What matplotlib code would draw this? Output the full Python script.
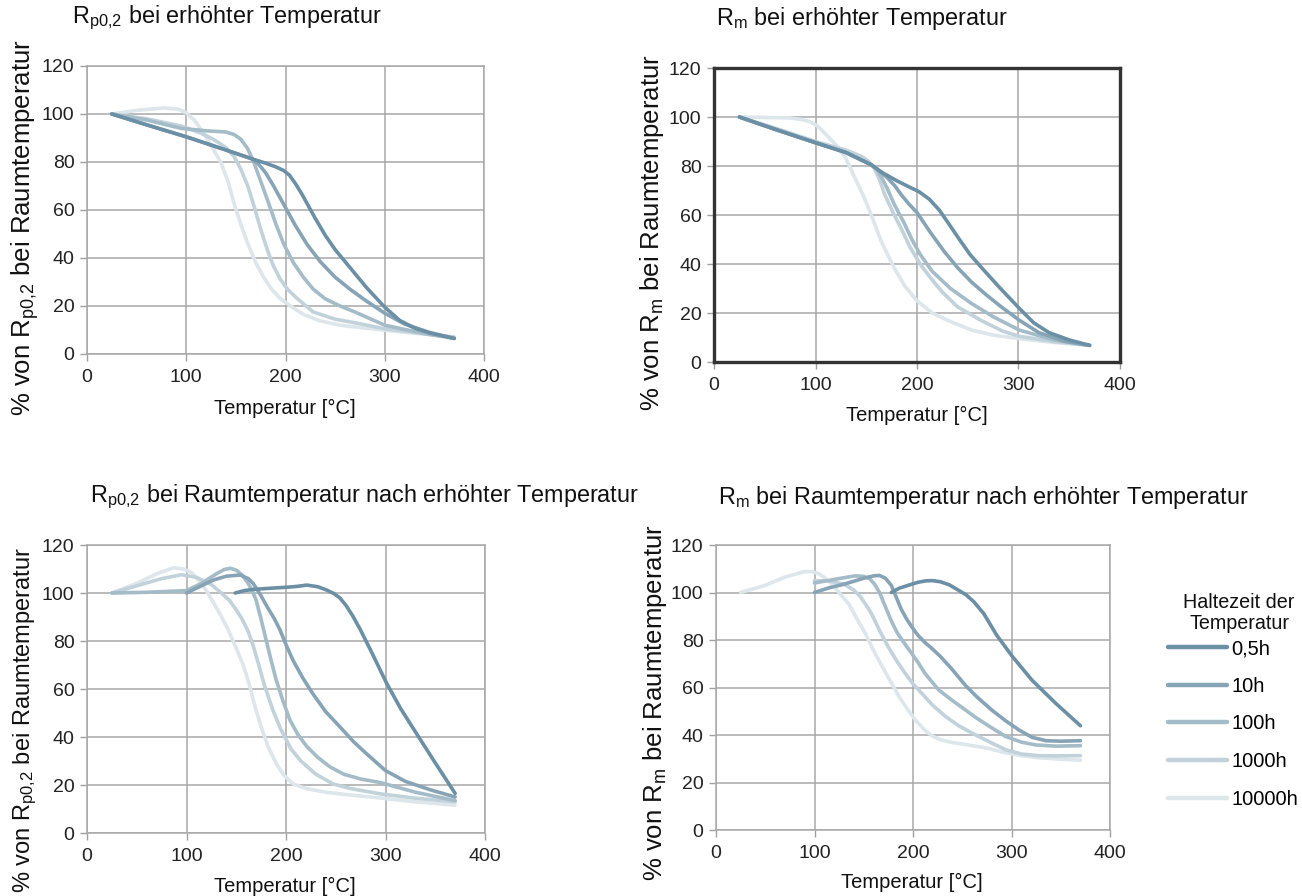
import matplotlib
matplotlib.use("Agg")
import matplotlib.pyplot as plt
from matplotlib.lines import Line2D

plt.rcParams['font.family'] = ['Liberation Sans', 'DejaVu Sans']
plt.rcParams['mathtext.fontset'] = 'custom'
plt.rcParams['mathtext.rm'] = 'Liberation Sans'
plt.rcParams['mathtext.it'] = 'Liberation Sans'

series_names = ['0,5h', '10h', '100h', '1000h', '10000h']
colors = ['#6b8fa4', '#87a4b6', '#a4bbc8', '#c2d2db', '#dce6eb']
x_ticks = [0, 100, 200, 300, 400]
y_ticks = [0, 20, 40, 60, 80, 100, 120]

# --- R_p0,2 bei erhoehter Temperatur
tl_T = [
    [25, 60, 100, 140, 165, 180, 190, 198, 204, 210, 216, 222, 230, 240, 250, 265, 282, 300, 315, 330, 345, 370],
    [25, 60, 100, 140, 165, 172, 180, 188, 200, 210, 222, 235, 250, 265, 280, 300, 320, 345, 370],
    [25, 60, 95, 120, 140, 148, 155, 162, 168, 175, 182, 190, 198, 208, 218, 228, 240, 255, 270, 300, 340, 370],
    [25, 60, 95, 115, 128, 140, 148, 155, 162, 168, 175, 182, 188, 195, 202, 212, 228, 250, 270, 300, 340, 370],
    [25, 50, 77, 92, 100, 108, 115, 125, 135, 142, 148, 155, 162, 170, 178, 186, 195, 205, 218, 235, 255, 280, 310, 370],
]
tl_V = [
    [100, 95.5, 90.5, 85, 81.5, 79.5, 78, 76.5, 74.5, 71, 67, 62.5, 56.5, 49.5, 43.5, 36, 27.5, 19.5, 14, 10.8, 8.8, 6.5],
    [100, 95.5, 90.5, 85, 81.5, 79.5, 75.5, 70, 61, 53.5, 45.5, 38.5, 32, 27, 22.5, 17, 12.5, 9, 6.5],
    [100, 97.5, 94, 93, 92.5, 91.5, 89.5, 85.5, 80, 72, 64, 54.5, 46, 38, 32, 27, 23, 20, 17.5, 12, 8.5, 6.5],
    [100, 98, 95, 92, 89.3, 86, 82.4, 77, 70, 62, 52, 43, 36.5, 31, 27, 23, 17.5, 14.5, 13, 10.5, 8.5, 7],
    [100, 101.5, 102.5, 102, 100.5, 97.5, 93.5, 87, 79.6, 72, 63, 54, 46, 38, 32, 27, 23, 20, 16.5, 13.8, 12, 10.8, 9.5, 7],
]

# --- R_m bei erhoehter Temperatur
tr_T = [
    [25, 60, 100, 130, 155, 165, 180, 192, 202, 212, 222, 232, 241, 252, 263, 280, 301, 315, 330, 350, 370],
    [25, 60, 100, 130, 155, 163, 170, 178, 185, 192, 200, 213, 227, 240, 254, 268, 283, 301, 320, 345, 370],
    [25, 60, 100, 130, 155, 160, 165, 170, 178, 187, 195, 203, 215, 233, 254, 275, 301, 335, 370],
    [25, 60, 100, 130, 145, 152, 158, 163, 168, 177, 185, 193, 203, 213, 225, 240, 263, 285, 301, 335, 370],
    [25, 50, 75, 86, 95, 103, 110, 122, 130, 139, 147, 155, 165, 177, 188, 200, 215, 233, 254, 275, 301, 335, 370],
]
tr_V = [
    [100, 95, 89.5, 85.5, 80.5, 77.5, 74, 71.5, 69.5, 66.5, 62, 56, 50.5, 44, 38.8, 31, 21.8, 16, 12, 9, 6.8],
    [100, 95, 89.5, 85.5, 80.5, 78, 75.5, 72, 68, 64.5, 61, 53, 45, 38.5, 32.5, 27.5, 22.5, 17, 12, 8.5, 6.8],
    [100, 95, 89.5, 85.5, 80.5, 79, 75.5, 71.4, 64, 57, 50, 44, 37, 30, 23.8, 18.5, 13, 9, 6.8],
    [100, 95.5, 90, 86.5, 84, 82, 79, 74.5, 68.5, 60.5, 54, 47, 40, 34.5, 28.5, 22.5, 17, 12.5, 10.5, 8.3, 6.8],
    [100, 99.8, 99.6, 99, 98, 96, 93, 87.8, 83, 75, 68, 60, 49, 38.8, 31, 25, 20, 16.5, 13, 11, 9.5, 8, 6.8],
]

# --- R_p0,2 bei Raumtemperatur nach erhoehter Temperatur
bl_T = [
    [149, 158, 167, 185, 201, 212, 221, 232, 241, 248, 254, 260, 267, 275, 287, 301, 315, 328, 348, 370],
    [100, 115, 127, 140, 154, 162, 167, 174, 181, 188, 194, 200, 207, 217, 227, 240, 254, 268, 281, 300, 320, 345, 370],
    [25, 60, 100, 115, 130, 138, 144, 150, 156, 162, 166, 170, 175, 180, 185, 190, 197, 204, 212, 221, 232, 244, 258, 275, 295, 330, 370],
    [25, 50, 75, 95, 110, 125, 135, 143, 150, 156, 162, 167, 172, 178, 187, 195, 205, 215, 230, 247, 265, 295, 330, 370],
    [25, 50, 70, 87, 97, 105, 113, 120, 127, 134, 142, 150, 157, 163, 170, 176, 182, 190, 198, 207, 220, 240, 265, 295, 330, 370],
]
bl_V = [
    [100, 101, 101.5, 102, 102.4, 102.8, 103.3, 102.6, 101.2, 99.8, 98, 95, 90.5, 84.5, 74.5, 62.5, 52, 43.5, 30.5, 16.5],
    [100, 103, 105.4, 107, 107.5, 106, 104, 99.5, 94.3, 89.5, 84.6, 78.5, 72, 64.5, 58, 50.5, 44.3, 38, 33, 26, 21.5, 18, 15],
    [100, 100.3, 101, 104, 108, 109.8, 110.3, 109.5, 107.5, 104, 101, 97, 89, 80.5, 72, 64, 55, 47, 41, 36, 31.5, 27.6, 24.5, 22.5, 21, 17, 13.5],
    [100, 103, 106, 107.6, 106.5, 103.5, 100, 97, 93, 89, 84, 78, 71, 62, 51, 43, 35, 30, 24.5, 20.5, 18.5, 16.3, 14.5, 13],
    [100, 104, 108, 110.5, 110, 108.5, 105, 101, 96, 91, 84.5, 77, 70, 62, 51, 43, 36, 29, 24, 20.5, 18.5, 17, 15.8, 14.6, 13, 11.6],
]

# --- R_m bei Raumtemperatur nach erhoehter Temperatur
br_T = [
    [178, 186, 195, 205, 213, 220, 228, 237, 246, 254, 262, 272, 285, 301, 321, 345, 370],
    [100, 115, 130, 150, 160, 166, 172, 178, 183, 188, 194, 199, 205, 212, 219, 228, 240, 253, 265, 280, 294, 308, 321, 335, 350, 370],
    [100, 120, 141, 150, 156, 161, 166, 172, 178, 184, 189, 194, 199, 206, 212, 226, 240, 253, 265, 280, 294, 310, 325, 345, 370],
    [100, 115, 130, 140, 146, 152, 158, 166, 175, 183, 192, 200, 209, 220, 233, 246, 260, 278, 294, 310, 328, 345, 370],
    [25, 50, 70, 90, 98, 104, 111, 118, 126, 135, 143, 152, 160, 169, 178, 186, 195, 203, 212, 220, 228, 238, 253, 275, 294, 310, 328, 350, 370],
]
br_V = [
    [100, 101.8, 103, 104.3, 104.9, 105, 104.5, 103.2, 101, 99, 96, 91, 82, 73, 63, 53.3, 43.9],
    [100, 102, 103.5, 106, 107, 107.2, 106, 103, 98, 93, 88.5, 85.4, 82, 79, 76.5, 73, 67.5, 61, 56, 50.5, 46, 42, 39, 37.6, 37.4, 37.6],
    [104, 105.5, 107, 106.8, 105.8, 103.5, 100, 94, 88, 83, 80, 77, 74.2, 70, 66, 59, 54.5, 50.6, 47, 43, 39.4, 37, 35.8, 35.3, 35.5],
    [105, 104.8, 103.5, 101, 98.5, 95, 91, 84, 77, 71.5, 66, 61.5, 57.5, 52.5, 47.8, 44, 40.8, 37, 33.8, 32, 31.3, 31.2, 31.3],
    [100, 103, 106.5, 108.8, 108.8, 108, 106, 103.5, 99.5, 95, 89, 82.5, 75.5, 68.6, 62, 56, 50.5, 46, 42, 39.5, 38, 37, 36, 34.5, 32.5, 31.3, 30.4, 29.8, 29.4],
]

RP = r'R$_{\mathrm{p0{,}2}}$'
RM = r'R$_{\mathrm{m}}$'
titles = [RP + ' bei erhöhter Temperatur', RM + ' bei erhöhter Temperatur',
          RP + ' bei Raumtemperatur nach erhöhter Temperatur',
          RM + ' bei Raumtemperatur nach erhöhter Temperatur']
ylabels = ['% von ' + RP + ' bei Raumtemperatur', '% von ' + RM + ' bei Raumtemperatur',
           '% von ' + RP + ' bei Raumtemperatur', '% von ' + RM + ' bei Raumtemperatur']
xlabel = 'Temperatur [°C]'
legend_title = 'Haltezeit der\nTemperatur'

W, H = 1302, 896
fig = plt.figure(figsize=(W / 100, H / 100), dpi=100)

def fx(p):
    return p / W

def fy(p):
    return 1 - p / H

# axes boxes in pixels: left, right, top, bottom
boxes = [(87, 484, 66, 354), (714, 1120, 68, 362), (87, 485, 545, 833), (716, 1110, 545, 830)]
data = [(tl_T, tl_V), (tr_T, tr_V), (bl_T, bl_V), (br_T, br_V)]
title_pos = [(72, 18), (716, 18), (90, 497), (718, 497)]
ylabel_pos = [(25, 228), (652, 233), (25, 720), (655, 703)]
ylabel_size = [18.5, 18.5, 17, 18.5]
xlabel_pos = [(285, 408), (917, 415), (285, 886), (912, 882)]

for i, ((l, r, t, b), (Ts, Vs)) in enumerate(zip(boxes, data)):
    ax = fig.add_axes([fx(l), fy(b), fx(r - l), (b - t) / H])
    for k in range(4, -1, -1):
        ax.plot(Ts[k], Vs[k], color=colors[k], lw=2.6, solid_capstyle='round',
                solid_joinstyle='round', zorder=3 + (4 - k))
    ax.set_xlim(0, 400)
    ax.set_ylim(0, 120)
    ax.set_xticks(x_ticks)
    ax.set_yticks(y_ticks)
    ax.grid(True, color='#a8a8a8', lw=1.1)
    ax.set_axisbelow(True)
    ax.tick_params(direction='out', length=5, width=1, color='#a0a0a0',
                   labelsize=14, labelcolor='#222222')
    ax.tick_params(axis='x', pad=6)
    ax.tick_params(axis='y', pad=4)
    if i == 1:
        for s in ax.spines.values():
            s.set_color('#333333')
            s.set_linewidth(2.4)
    else:
        for s in ax.spines.values():
            s.set_color('#a8a8a8')
            s.set_linewidth(1.1)
    fig.text(fx(title_pos[i][0]), fy(title_pos[i][1]), titles[i], ha='left', va='center',
             fontsize=16.8, color='#111111')
    fig.text(fx(ylabel_pos[i][0]), fy(ylabel_pos[i][1]), ylabels[i], ha='center', va='center',
             rotation=90, fontsize=ylabel_size[i], color='#111111')
    fig.text(fx(xlabel_pos[i][0]), fy(xlabel_pos[i][1]), xlabel, ha='center', va='center',
             fontsize=14.5, color='#111111')

fig.text(fx(1239), fy(613), legend_title, ha='center', va='center', fontsize=14.2,
         color='#111111', linespacing=1.1, multialignment='center')
handles = [Line2D([0], [0], color=c, lw=3.2, solid_capstyle='round') for c in colors]
leg = fig.legend(handles, series_names, loc='upper left',
                 bbox_to_anchor=(fx(1168), fy(639)), frameon=False, borderaxespad=0,
                 borderpad=0, fontsize=14.5, handlelength=2.95, handletextpad=0.2,
                 labelspacing=0.93)

fig.savefig('out.png', dpi=100)
